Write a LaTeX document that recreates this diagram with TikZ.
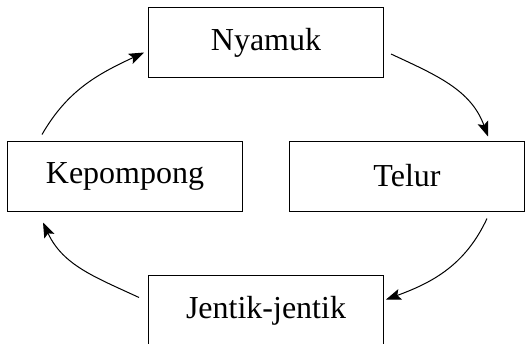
\documentclass[tikz,border=0pt]{standalone}
\usepackage{fontspec}
\setmainfont{Liberation Serif}
\usetikzlibrary{arrows.meta}
\def\W{235pt}
\def\H{70pt}
\begin{document}
\begin{tikzpicture}[x=1pt,y=-1pt,
    stage/.style={draw,line width=1pt,inner sep=0pt,minimum width=\W,minimum height=\H,font=\fontsize{32}{38}\selectfont},
    cycle/.style={line width=1pt,-{Stealth[length=15pt,width=11pt,inset=3pt]}}]
% page is 526 x 343, origin top-left with y down
\useasboundingbox (0,0) rectangle (526,343);
\node[stage] (nyamuk) at (266,42.5) {Nyamuk};
\node[stage] (kepompong) at (125,176) {Kepompong};
\node[stage] (telur) at (407,176) {Telur};
\node[stage] (jentik) at (266,310.5) {Jentik-jentik};
% life cycle, clockwise
\draw[cycle] ([xshift=7pt,yshift=-11.5pt]nyamuk.east) to[out=-25,in=110] ([xshift=-37pt,yshift=4pt]telur.north east);
\draw[cycle] ([xshift=-38pt,yshift=-7pt]telur.south east) to[out=245,in=20] ([xshift=2pt,yshift=11pt]jentik.east);
\draw[cycle] ([xshift=-9pt,yshift=13pt]jentik.west) to[out=155,in=-65] ([xshift=36pt,yshift=-11pt]kepompong.south west);
\draw[cycle] ([xshift=35pt,yshift=6pt]kepompong.north west) to[out=60,in=205] ([xshift=-4pt,yshift=-10pt]nyamuk.west);
\end{tikzpicture}
\end{document}
